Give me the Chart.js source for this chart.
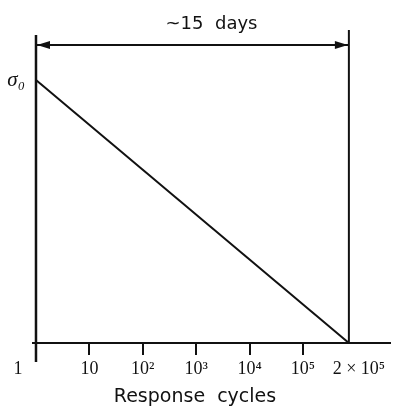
<!DOCTYPE html>
<html>
<head>
<meta charset="utf-8">
<script src="https://cdn.jsdelivr.net/npm/chart.js@4.4.1/dist/chart.umd.min.js"></script>
<style>
  html, body { margin: 0; padding: 0; background: #fff; }
  #wrap { width: 396px; height: 408px; position: relative; }
</style>
</head>
<body>
<div id="wrap"><canvas id="c"></canvas></div>
<script>
// ---- data ----
// schematic decade positions of the response-cycle axis (1, 10, ..., 1e5, 2e5)
const cyclePos   = [0, 1, 2, 3, 4, 5, 5.86];
const tickLabels = ['1', '10', '10\u00B2', '10\u00B3', '10\u2074', '10\u2075', '2 \u00D7 10\u2075'];
// stress relative to sigma0: falls linearly from sigma0 at 1 cycle to 0 at 2x10^5 cycles
const stressValues = [1, 0];
const stressCycles = [cyclePos[0], cyclePos[6]];
const sigmaLabel = '\u03C3\u2080';
const durationLabel = '~15  days';
const xTitle = 'Response  cycles';
// bounding verticals and the "~15 days" span (in stress units)
const leftBar  = [-0.072, 1.171];
const rightBar = [0, 1.19];
const spanLevel = 1.133;

const INK = '#111';
const serif = "'Liberation Serif', 'DejaVu Serif', serif";
const sans  = "'DejaVu Sans', 'Liberation Sans', sans-serif";

const X_MIN = -0.056, X_MAX = 6.63, Y_MIN = 0, Y_MAX = 1.1688;
const SUB_SIZE = 19;
const AXIS_H = 408 - 343 - SUB_SIZE * 1.2;

function baseX(extra) {
  return Object.assign({
    type: 'linear', position: 'bottom', min: X_MIN, max: X_MAX,
    afterFit: s => { s.height = 0; },
    grid: { drawOnChartArea: false, drawTicks: true, tickLength: 12, color: 'rgba(0,0,0,0)', lineWidth: 2 },
    border: { display: false },
    ticks: { color: INK, font: { family: serif, size: 18 }, padding: 3, maxRotation: 0, autoSkip: false }
  }, extra);
}

// align the end-label axes with the main x axis band
const alignPlugin = {
  id: 'alignEndAxes',
  afterLayout(chart) {
    const x = chart.scales.x;
    ['xFirst', 'xLast'].forEach(id => {
      const s = chart.scales[id];
      if (!s) return;
      s.top = x.top; s.bottom = x.bottom; s.height = x.bottom - x.top;
    });
  }
};

const arrowPlugin = {
  id: 'spanArrows',
  afterDatasetsDraw(chart) {
    const meta = chart.getDatasetMeta(3);
    if (!meta || !meta.data || meta.data.length < 2) return;
    const a = meta.data[0], b = meta.data[meta.data.length - 1];
    const ctx = chart.ctx, L = 13, H = 4;
    ctx.save();
    ctx.fillStyle = INK;
    ctx.beginPath();
    ctx.moveTo(a.x + 1, a.y); ctx.lineTo(a.x + 1 + L, a.y - H); ctx.lineTo(a.x + 1 + L, a.y + H); ctx.closePath();
    ctx.fill();
    ctx.beginPath();
    ctx.moveTo(b.x - 1, b.y); ctx.lineTo(b.x - 1 - L, b.y - H); ctx.lineTo(b.x - 1 - L, b.y + H); ctx.closePath();
    ctx.fill();
    ctx.restore();
  }
};

const line = (data, w) => ({
  data, borderColor: INK, borderWidth: w, pointRadius: 0, fill: false, clip: false, tension: 0
});

new Chart(document.getElementById('c'), {
  type: 'line',
  data: {
    datasets: [
      line(stressCycles.map((c, i) => ({ x: c, y: stressValues[i] })), 2),
      line(leftBar.map(v => ({ x: cyclePos[0], y: v })), 2.5),
      line(rightBar.map(v => ({ x: cyclePos[6], y: v })), 2),
      line([{ x: cyclePos[0], y: spanLevel }, { x: cyclePos[6], y: spanLevel }], 2)
    ]
  },
  options: {
    responsive: true, maintainAspectRatio: false, animation: false,
    layout: { padding: { left: 0, right: 6, top: 0, bottom: 0 } },
    plugins: {
      legend: { display: false },
      tooltip: { enabled: false },
      title: { display: true, text: durationLabel, color: INK, fullSize: false,
               font: { family: sans, size: 18, weight: 'normal' }, padding: { top: 14, bottom: 0 } },
      subtitle: { display: true, text: xTitle, position: 'bottom', color: INK, fullSize: true,
                  font: { family: sans, size: SUB_SIZE, weight: 'normal' }, padding: { top: 0, bottom: 0 } }
    },
    scales: {
      x: baseX({
        afterFit: s => { s.height = AXIS_H; },
        afterBuildTicks: s => { s.ticks = cyclePos.slice(1, 6).map(v => ({ value: v })); },
        ticks: { color: INK, font: { family: serif, size: 18 }, padding: 3, maxRotation: 0, autoSkip: false,
                 callback: (v, i) => tickLabels[i + 1] },
        grid: { drawOnChartArea: false, drawTicks: true, tickLength: 12, color: INK, lineWidth: 2 },
        border: { display: true, color: INK, width: 2 }
      }),
      xFirst: baseX({
        afterBuildTicks: s => { s.ticks = [{ value: cyclePos[0] }]; },
        ticks: { color: INK, font: { family: serif, size: 18 }, padding: 3, maxRotation: 0, autoSkip: false,
                 labelOffset: -18, callback: () => tickLabels[0] }
      }),
      xLast: baseX({
        afterBuildTicks: s => { s.ticks = [{ value: cyclePos[6] }]; },
        ticks: { color: INK, font: { family: serif, size: 18 }, padding: 3, maxRotation: 0, autoSkip: false,
                 labelOffset: 10, callback: () => tickLabels[6] }
      }),
      y: {
        type: 'linear', min: Y_MIN, max: Y_MAX,
        afterFit: s => { s.width = 33; },
        afterBuildTicks: s => { s.ticks = [{ value: 1 }]; },
        grid: { display: false },
        border: { display: false },
        ticks: { color: INK, padding: 0, font: { family: serif, size: 21, style: 'italic' },
                 callback: () => sigmaLabel }
      }
    }
  },
  plugins: [alignPlugin, arrowPlugin]
});
</script>
</body>
</html>
